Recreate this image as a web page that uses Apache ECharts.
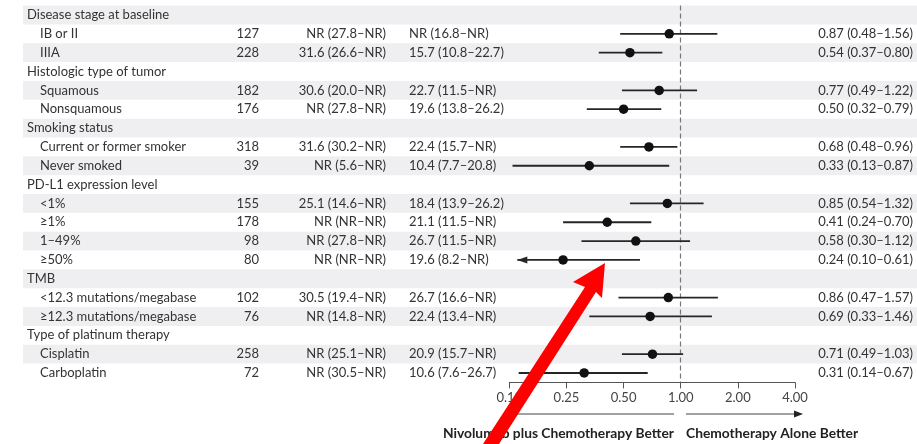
<!DOCTYPE html>
<html>
<head>
<meta charset="utf-8">
<script src="https://cdn.jsdelivr.net/npm/echarts@6/dist/echarts.min.js"></script>
<style>
  html, body { margin: 0; padding: 0; background: #fff; }
  #chart { width: 917px; height: 444px; }
</style>
</head>
<body>
<div id="chart"></div>
<script>
// Subgroup rows, top to bottom. Headers have no numbers.
const rowLabels = [
  'Disease stage at baseline', 'IB or II', 'IIIA',
  'Histologic type of tumor', 'Squamous', 'Nonsquamous',
  'Smoking status', 'Current or former smoker', 'Never smoked',
  'PD-L1 expression level', '<1%', '≥1%', '1–49%', '≥50%',
  'TMB', '<12.3 mutations/megabase', '≥12.3 mutations/megabase',
  'Type of platinum therapy', 'Cisplatin', 'Carboplatin'
];
const isHeader = [1,0,0, 1,0,0, 1,0,0, 1,0,0,0,0, 1,0,0, 1,0,0];
const patients = ['', '127', '228', '', '182', '176', '', '318', '39', '',
  '155', '178', '98', '80', '', '102', '76', '', '258', '72'];
const nivoMedian = ['', 'NR (27.8–NR)', '31.6 (26.6–NR)', '', '30.6 (20.0–NR)', 'NR (27.8–NR)',
  '', '31.6 (30.2–NR)', 'NR (5.6–NR)', '', '25.1 (14.6–NR)', 'NR (NR–NR)', 'NR (27.8–NR)',
  'NR (NR–NR)', '', '30.5 (19.4–NR)', 'NR (14.8–NR)', '', 'NR (25.1–NR)', 'NR (30.5–NR)'];
const chemoMedian = ['', 'NR (16.8–NR)', '15.7 (10.8–22.7)', '', '22.7 (11.5–NR)', '19.6 (13.8–26.2)',
  '', '22.4 (15.7–NR)', '10.4 (7.7–20.8)', '', '18.4 (13.9–26.2)', '21.1 (11.5–NR)', '26.7 (11.5–NR)',
  '19.6 (8.2–NR)', '', '26.7 (16.6–NR)', '22.4 (13.4–NR)', '', '20.9 (15.7–NR)', '10.6 (7.6–26.7)'];
const hazardRatio = [null, 0.87, 0.54, null, 0.77, 0.50, null, 0.68, 0.33, null,
  0.85, 0.41, 0.58, 0.24, null, 0.86, 0.69, null, 0.71, 0.31];
const ciLower = [null, 0.48, 0.37, null, 0.49, 0.32, null, 0.48, 0.13, null,
  0.54, 0.24, 0.30, 0.10, null, 0.47, 0.33, null, 0.49, 0.14];
const ciUpper = [null, 1.56, 0.80, null, 1.22, 0.79, null, 0.96, 0.87, null,
  1.32, 0.70, 1.12, 0.61, null, 1.57, 1.46, null, 1.03, 0.67];

const tickValues = [0.125, 0.25, 0.5, 1, 2, 4];
const tickLabels = ['0.12', '0.25', '0.50', '1.00', '2.00', '4.00'];

const fmt = v => v.toFixed(2);
const hrText = hazardRatio.map((h, i) =>
  h == null ? '' : fmt(h) + ' (' + fmt(ciLower[i]) + '–' + fmt(ciUpper[i]) + ')');

const FONT = 'Lato, "Open Sans", sans-serif';
const TEXT = '#333333';
const INK = '#262626';

// Table rows: banding plus text columns, placed on the category scale
const tableData = rowLabels.map((_, i) => [0.125, i]);
function renderRow(params, api) {
  const i = api.value(1);
  const y = api.coord([1, i])[1];
  const h = api.size([0, 1])[1];
  const kids = [];
  if (i % 2 === 0) {
    kids.push({ type: 'rect', shape: { x: 23, y: y - h / 2, width: 894, height: h },
      style: { fill: '#efeff1' }, z2: 0 });
  }
  const txt = (x, s, align) => ({
    type: 'text', z2: 5,
    style: { x: x, y: y, text: s, fill: TEXT, font: '13px ' + FONT,
      align: align, verticalAlign: 'middle' }
  });
  kids.push(txt(isHeader[i] ? 27 : 40, rowLabels[i], 'left'));
  if (!isHeader[i]) {
    kids.push(txt(259, patients[i], 'right'));
    kids.push(txt(386, nivoMedian[i], 'right'));
    kids.push(txt(409, chemoMedian[i], 'left'));
    kids.push(txt(913, hrText[i], 'right'));
  }
  return { type: 'group', children: kids };
}

// Confidence-interval whiskers; arrowhead when the lower bound is off-scale
const ciData = [];
hazardRatio.forEach((h, i) => { if (h != null) ciData.push([ciLower[i], ciUpper[i], i]); });
function renderCI(params, api) {
  const lo = api.value(0), hi = api.value(1), i = api.value(2);
  const cs = params.coordSys;
  const y = api.coord([1, i])[1];
  let x1 = api.coord([Math.max(lo, 0.125), i])[0];
  const x2 = api.coord([hi, i])[0];
  const kids = [];
  if (lo < 0.125) {
    x1 = cs.x + 8;
    kids.push({ type: 'polygon', shape: { points: [[x1, y], [x1 + 10, y - 3.5], [x1 + 10, y + 3.5]] },
      style: { fill: INK } });
  }
  kids.push({ type: 'line', shape: { x1: x1, y1: y, x2: x2, y2: y },
    style: { stroke: INK, lineWidth: 1.8 } });
  return { type: 'group', children: kids };
}

const pointData = [];
hazardRatio.forEach((h, i) => { if (h != null) pointData.push([h, i]); });

const chart = echarts.init(document.getElementById('chart'), null, { renderer: 'canvas' });
chart.setOption({
  animation: false,
  backgroundColor: '#ffffff',
  grid: { left: 509.3, right: 122, top: 5.6, bottom: 61.6 },
  xAxis: {
    type: 'log', logBase: 2, min: 0.125, max: 4, interval: 1,
    axisLine: { show: true, lineStyle: { color: '#555', width: 1 } },
    axisTick: { show: true, length: 6, lineStyle: { color: '#555' } },
    axisLabel: {
      color: '#444', fontSize: 13, fontFamily: FONT, margin: 9,
      formatter: v => {
        const k = tickValues.findIndex(t => Math.abs(t - v) < 1e-6);
        return k >= 0 ? tickLabels[k] : '';
      }
    },
    splitLine: { show: false }
  },
  yAxis: {
    type: 'category', data: rowLabels, inverse: true, show: false
  },
  series: [
    { type: 'custom', data: tableData, renderItem: renderRow, clip: false, z: 1,
      encode: { x: 0, y: 1 }, silent: true },
    { type: 'custom', data: ciData, renderItem: renderCI, clip: false, z: 3,
      encode: { x: [0, 1], y: 2 }, silent: true },
    {
      type: 'scatter', data: pointData, symbol: 'circle', symbolSize: 9.5, z: 4,
      itemStyle: { color: '#111', opacity: 1 }, silent: true,
      markLine: {
        silent: true, symbol: 'none', label: { show: false }, z: 2,
        lineStyle: { type: [5, 3], color: '#777', width: 1.2 },
        data: [{ xAxis: 1 }]
      }
    }
  ],
  graphic: [
    { type: 'line', shape: { x1: 510, y1: 414, x2: 674, y2: 414 },
      style: { stroke: '#444', lineWidth: 1 } },
    { type: 'line', shape: { x1: 686, y1: 414, x2: 796, y2: 414 },
      style: { stroke: '#444', lineWidth: 1 } },
    { type: 'polygon', shape: { points: [[803, 414], [794, 410.5], [794, 417.5]] },
      style: { fill: '#222' } },
    { type: 'text', style: { x: 674, y: 434, text: 'Nivolumab plus Chemotherapy Better',
      align: 'right', verticalAlign: 'middle', fill: '#222', font: 'bold 13.8px ' + FONT } },
    { type: 'text', style: { x: 686, y: 434, text: 'Chemotherapy Alone Better',
      align: 'left', verticalAlign: 'middle', fill: '#222', font: 'bold 13.8px ' + FONT } },
    // red callout arrow
    { type: 'polygon', z: 100, shape: { points: [
        [605, 263], [602, 298], [596, 292], [499, 444], [483, 444], [585, 287], [573, 282]
      ] }, style: { fill: '#ff0000' } }
  ]
});
</script>
</body>
</html>
